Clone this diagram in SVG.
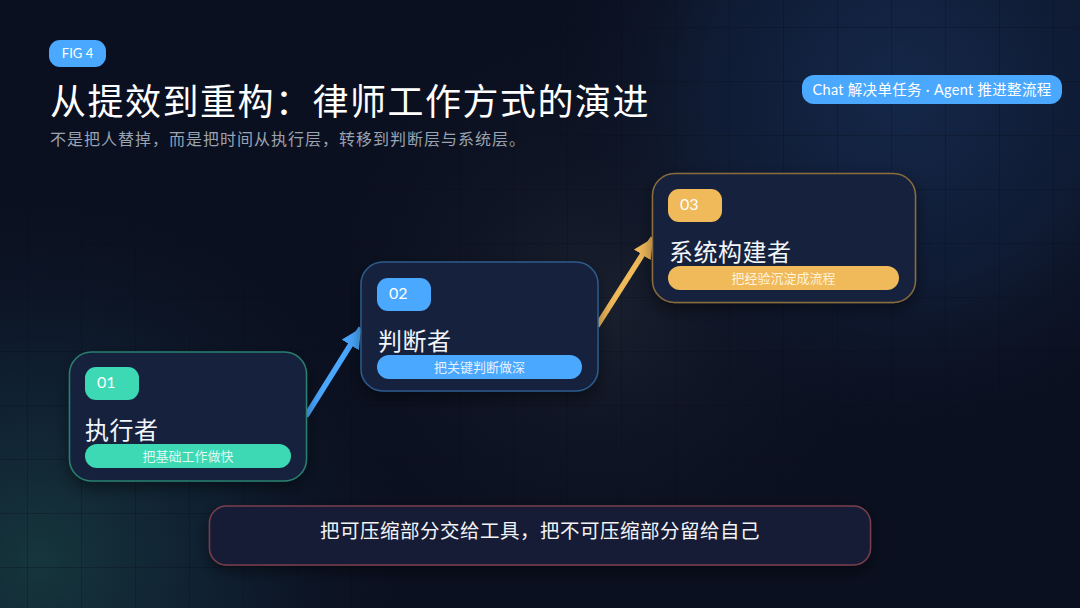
<svg xmlns="http://www.w3.org/2000/svg" width="1080" height="608" viewBox="0 0 1080 608">
<defs>
<radialGradient id="gTeal" cx="40" cy="560" r="380" gradientUnits="userSpaceOnUse">
<stop offset="0" stop-color="#16363c" stop-opacity="1"/>
<stop offset="0.5" stop-color="#12283a" stop-opacity="0.6"/>
<stop offset="1" stop-color="#0b1120" stop-opacity="0"/>
</radialGradient>
<radialGradient id="gBlue" cx="900" cy="90" r="360" gradientUnits="userSpaceOnUse">
<stop offset="0" stop-color="#15284a" stop-opacity="1"/>
<stop offset="0.55" stop-color="#122240" stop-opacity="0.6"/>
<stop offset="1" stop-color="#0b1120" stop-opacity="0"/>
</radialGradient>
<radialGradient id="gMid" cx="600" cy="300" r="300" gradientUnits="userSpaceOnUse">
<stop offset="0" stop-color="#1c2230" stop-opacity="0.9"/>
<stop offset="1" stop-color="#0b1120" stop-opacity="0"/>
</radialGradient>
<pattern id="grid" x="27" y="27" width="54" height="54" patternUnits="userSpaceOnUse">
<path d="M0 0 H54 M0 0 V54" fill="none" stroke="#060a14" stroke-opacity="0.55" stroke-width="1"/>
</pattern>
<filter id="shadow" x="-20%" y="-30%" width="140%" height="160%">
<feDropShadow dx="0" dy="6" stdDeviation="8" flood-color="#000000" flood-opacity="0.45"/>
</filter>
<marker id="arrBlue" markerUnits="userSpaceOnUse" markerWidth="24" markerHeight="24" refX="20" refY="10" orient="auto">
<path d="M0 0 L20 10 L0 20 Z" fill="#4aa8ff"/>
</marker>
<marker id="arrAmber" markerUnits="userSpaceOnUse" markerWidth="24" markerHeight="24" refX="20" refY="10" orient="auto">
<path d="M0 0 L20 10 L0 20 Z" fill="#f0b95a"/>
</marker>
</defs>
<style>
.cjk{font-family:"Noto Sans CJK SC","Noto Sans",sans-serif;}
.card{fill:#14223c;stroke-width:1.5;}
.badgeTxt{font-family:"Lato","Noto Sans CJK SC",sans-serif;font-size:16px;fill:#ffffff;}
.title{font-family:"Noto Sans CJK SC",sans-serif;font-size:24px;fill:#f2f5fa;letter-spacing:0.5px;}
.pillTxt{font-family:"Noto Sans CJK SC",sans-serif;font-size:13px;text-anchor:middle;}
</style>

<rect width="1080" height="608" fill="#0b1020"/>
<rect width="1080" height="608" fill="url(#gMid)"/>
<rect width="1080" height="608" fill="url(#gBlue)"/>
<rect width="1080" height="608" fill="url(#gTeal)"/>
<rect width="1080" height="608" fill="url(#grid)"/>

<g id="header">
<rect x="49" y="40" width="57" height="27" rx="11" fill="#4aa8ff"/>
<text x="77.5" y="58" font-family="Lato,'Noto Sans',sans-serif" font-size="13" fill="#ffffff" text-anchor="middle">FIG 4</text>
<text x="50" y="115" class="cjk" font-size="36" fill="#ffffff" letter-spacing="1.5">从提效到重构：律师工作方式的演进</text>
<text x="50" y="145" class="cjk" font-size="16" fill="#9aa3b2" letter-spacing="1">不是把人替掉，而是把时间从执行层，转移到判断层与系统层。</text>
</g>

<g id="legend">
<rect x="802" y="75" width="260" height="29" rx="12" fill="#4aa8ff"/>
<text x="932" y="94.5" font-family="Lato,'Noto Sans CJK SC',sans-serif" font-size="14.5" fill="#ffffff" text-anchor="middle" letter-spacing="0.3">Chat 解决单任务 ·   Agent 推进整流程</text>
</g>

<g id="connectors">
<line x1="306" y1="416" x2="361" y2="328" stroke="#4aa8ff" stroke-width="5.5" marker-end="url(#arrBlue)"/>
<line x1="597" y1="326" x2="653" y2="238" stroke="#f0b95a" stroke-width="5.5" marker-end="url(#arrAmber)"/>
</g>

<g id="node1">
<rect x="69.5" y="352" width="237" height="129" rx="22" class="card" stroke="#2a7f70" filter="url(#shadow)"/>
<rect x="85" y="367" width="54" height="33" rx="11" fill="#3dd9b4"/>
<text x="97" y="388" class="badgeTxt">01</text>
<text x="85" y="439" class="title">执行者</text>
<rect x="85" y="444" width="206" height="24" rx="12" fill="#3dd9b4"/>
<text x="188" y="461" class="pillTxt" fill="#dff7ef">把基础工作做快</text>
</g>

<g id="node2">
<rect x="361" y="262" width="237" height="129" rx="22" class="card" stroke="#2d5b8c" filter="url(#shadow)"/>
<rect x="377" y="278" width="54" height="33" rx="11" fill="#4aa8ff"/>
<text x="389" y="299" class="badgeTxt">02</text>
<text x="378" y="350" class="title">判断者</text>
<rect x="377" y="355" width="205" height="24" rx="12" fill="#4aa8ff"/>
<text x="479.5" y="372" class="pillTxt" fill="#e4f0ff">把关键判断做深</text>
</g>

<g id="node3">
<rect x="652.5" y="173.5" width="263" height="129" rx="22" class="card" stroke="#8a6c3c" filter="url(#shadow)"/>
<rect x="668" y="189" width="54" height="33" rx="11" fill="#f0b95a"/>
<text x="680" y="210" class="badgeTxt">03</text>
<text x="669" y="261" class="title">系统构建者</text>
<rect x="668" y="266" width="231" height="24" rx="12" fill="#f0b95a"/>
<text x="783.5" y="283" class="pillTxt" fill="#fff3dc">把经验沉淀成流程</text>
</g>

<g id="summary">
<rect x="209.5" y="506" width="661" height="59" rx="17" fill="#121c34" stroke="#7a3e4c" stroke-width="1.5" filter="url(#shadow)"/>
<text x="540" y="538" class="cjk" font-size="19.5" fill="#f2f4f8" text-anchor="middle" letter-spacing="0.5">把可压缩部分交给工具，把不可压缩部分留给自己</text>
</g>
</svg>
